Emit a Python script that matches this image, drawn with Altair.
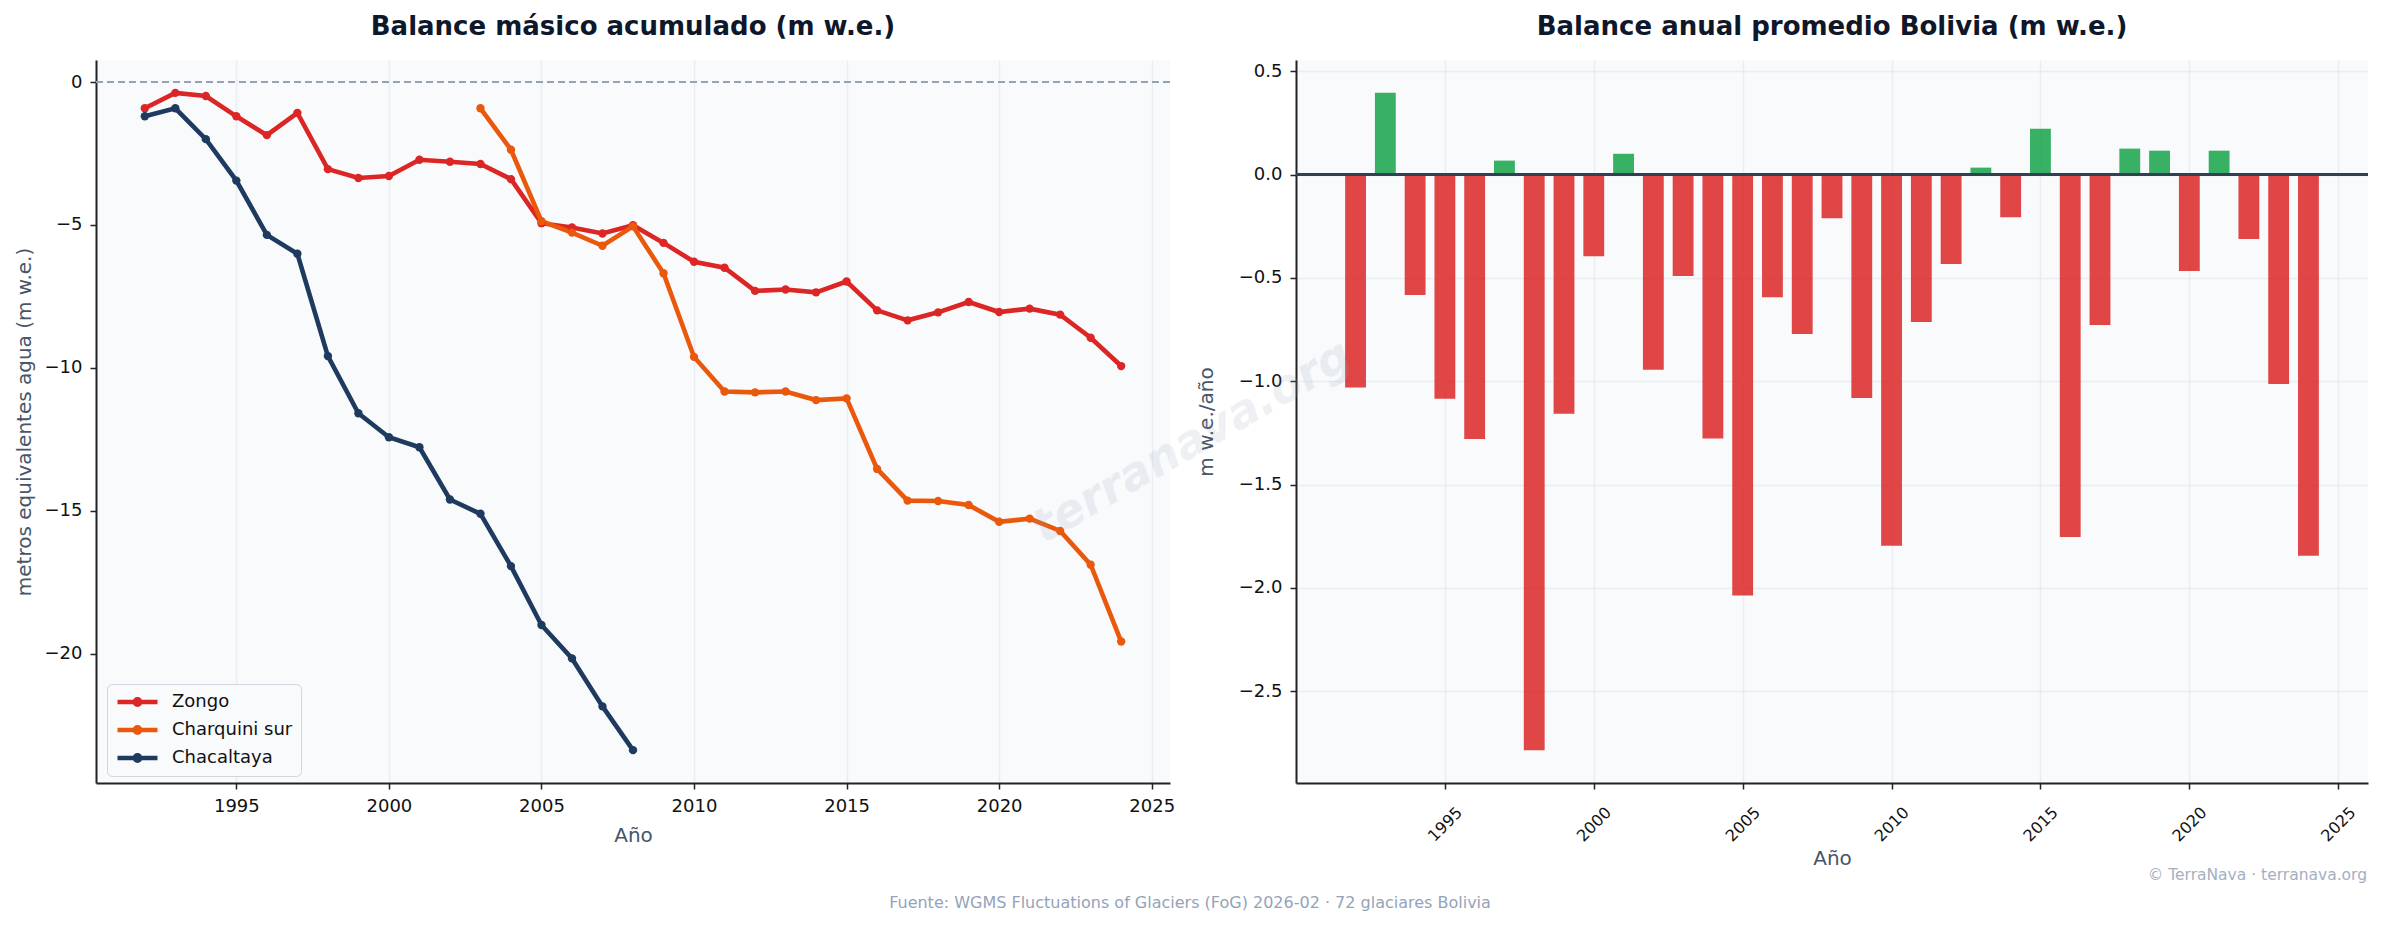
import altair as alt
import pandas as pd

# ---------------- data ----------------
series_names = ["Zongo", "Charquini sur", "Chacaltaya"]
series_colors = ["#dc2626", "#ea580c", "#1e3a5f"]

zongo_years = list(range(1992, 2025))
zongo_vals = [-0.92, -0.38, -0.49, -1.20, -1.86, -1.08, -3.05, -3.36, -3.29, -2.72,
              -2.79, -2.87, -3.40, -4.94, -5.09, -5.30, -5.01, -5.63, -6.29, -6.50,
              -7.31, -7.26, -7.36, -6.98, -7.99, -8.34, -8.06, -7.70, -8.05, -7.93,
              -8.14, -8.95, -9.94]

charq_years = list(range(2003, 2025))
charq_vals = [-0.92, -2.37, -4.87, -5.27, -5.73, -5.05, -6.69, -9.62, -10.83, -10.86,
              -10.83, -11.13, -11.07, -13.54, -14.65, -14.66, -14.80, -15.39, -15.28,
              -15.71, -16.89, -19.58]

chac_years = list(range(1992, 2009))
chac_vals = [-1.20, -0.92, -2.00, -3.45, -5.35, -6.01, -9.59, -11.59, -12.43, -12.78,
             -14.61, -15.11, -16.94, -19.00, -20.17, -21.85, -23.38]

bar_years = list(range(1992, 2025))
bar_vals = [-1.03, 0.396, -0.583, -1.085, -1.28, 0.068, -2.786, -1.158, -0.395, 0.101,
            -0.945, -0.491, -1.277, -2.037, -0.593, -0.771, -0.211, -1.081, -1.797,
            -0.713, -0.433, 0.034, -0.206, 0.222, -1.754, -0.728, 0.126, 0.116,
            -0.467, 0.116, -0.312, -1.013, -1.845]

left_xticks = [1995, 2000, 2005, 2010, 2015, 2020, 2025]
left_yticks = [-20, -15, -10, -5, 0]
right_yticks = [-2.5, -2.0, -1.5, -1.0, -0.5, 0.0, 0.5]

title_left = "Balance másico acumulado (m w.e.)"
title_right = "Balance anual promedio Bolivia (m w.e.)"
footer_text = "Fuente: WGMS Fluctuations of Glaciers (FoG) 2026-02 · 72 glaciares Bolivia"
credit_text = "© TerraNava · terranava.org"
watermark_text = "terranava.org"

# ---------------- tables ----------------
rows = []
for name, yrs, vals in [("Zongo", zongo_years, zongo_vals),
                        ("Charquini sur", charq_years, charq_vals),
                        ("Chacaltaya", chac_years, chac_vals)]:
    for yr, v in zip(yrs, vals):
        rows.append({"glacier": name, "year": yr, "value": v})
lines_df = pd.DataFrame(rows)
bars_df = pd.DataFrame({"year": bar_years, "value": bar_vals})

FONT = "DejaVu Sans"
LEG_PATH = "M-1,0H1M-0.13,0A0.13,0.13,0,1,0,0.13,0A0.13,0.13,0,1,0,-0.13,0"

# ---------------- left chart ----------------
x_left = alt.X("year:Q",
               scale=alt.Scale(domain=[1990.4, 2025.6], nice=False, zero=False),
               axis=alt.Axis(title="Año", values=left_xticks, format="d",
                             labelPadding=8, titlePadding=10))
y_left = alt.Y("value:Q",
               scale=alt.Scale(domain=[-24.53, 0.77], nice=False, zero=False),
               axis=alt.Axis(title="metros equivalentes agua (m w.e.)", values=left_yticks,
                             format="d", labelPadding=8, titlePadding=10))

zero_dash = alt.Chart(lines_df).mark_rule(
    strokeDash=[7, 4], color="#94a3b8", strokeWidth=1.5
).encode(y=alt.datum(0))

lines = alt.Chart(lines_df).mark_line(
    strokeWidth=4.6,
    point=alt.OverlayMarkDef(filled=True, size=70, opacity=1),
).encode(
    x=x_left,
    y=y_left,
    color=alt.Color("glacier:N",
                    scale=alt.Scale(domain=series_names, range=series_colors),
                    sort=series_names,
                    legend=alt.Legend(title=None, orient="none", legendX=11, legendY=624,
                                      fillColor="#f8fafc", strokeColor="#cfd6df",
                                      cornerRadius=5, padding=8, labelFontSize=18,
                                      labelColor="#111111", labelFont=FONT,
                                      symbolType=LEG_PATH, symbolSize=1600,
                                      symbolStrokeWidth=4.6, clipHeight=20,
                                      rowPadding=8, labelOffset=12)),
    order=alt.Order("year:Q"),
)

footer = alt.Chart(pd.DataFrame({"t": [footer_text]})).mark_text(
    fontSize=16, color="#94a3b8", align="center", baseline="middle", font=FONT
).encode(text="t:N", x=alt.value(1094), y=alt.value(843))

left = alt.layer(zero_dash, lines, footer).properties(
    width=1074, height=723, title=title_left
)

# ---------------- right chart ----------------
bars = alt.Chart(bars_df).transform_calculate(
    x0="datum.year - 0.35", x1="datum.year + 0.35"
).mark_rect(opacity=0.85).encode(
    x=alt.X("x0:Q",
            scale=alt.Scale(domain=[1990.0, 2026.0], nice=False, zero=False),
            axis=alt.Axis(title="Año", values=left_xticks, format="d",
                          labelAngle=315, labelAlign="center", labelBaseline="middle",
                          labelPadding=35, labelFontSize=16, titlePadding=4)),
    x2="x1:Q",
    y=alt.Y("value:Q",
            scale=alt.Scale(domain=[-2.945, 0.555], nice=False, zero=False),
            axis=alt.Axis(title="m w.e./año", values=right_yticks, format=".1f",
                          labelPadding=8, titlePadding=22)),
    y2=alt.datum(0),
    color=alt.condition("datum.value >= 0", alt.value("#16a34a"), alt.value("#dc2626")),
)

zero_solid = alt.Chart(bars_df).mark_rule(color="#334155", strokeWidth=2).encode(
    y=alt.datum(0)
)

watermark = alt.Chart(pd.DataFrame({"t": [watermark_text]})).mark_text(
    fontSize=46, fontWeight="bold", fontStyle="italic", color="#94a3b8", opacity=0.15,
    angle=330, align="center", baseline="middle", font=FONT
).encode(text="t:N", x=alt.value(-104), y=alt.value(382))

credit = alt.Chart(pd.DataFrame({"t": [credit_text]})).mark_text(
    fontSize=15.5, color="#a3b0c2", align="right", baseline="middle", font=FONT
).encode(text="t:N", x=alt.value(1071), y=alt.value(815))

right = alt.layer(bars, zero_solid, watermark, credit).properties(
    width=1072, height=723, title=title_right
)

chart = alt.hconcat(left, right, spacing=126, bounds="flush").properties(
    padding={"left": 14, "top": 14, "right": 0, "bottom": 0}
).configure(
    background="white", font=FONT
).configure_view(
    fill="#f8fafc", stroke=None
).configure_axis(
    domainColor="#222222", domainWidth=2, tickColor="#222222", tickWidth=1.5, tickSize=6,
    labelFontSize=18, labelColor="#111111", labelFont=FONT,
    titleFontSize=20, titleColor="#475569", titleFontWeight="normal", titleFont=FONT,
    gridColor="#e2e8f0", gridOpacity=0.7, gridWidth=1.5
).configure_title(
    fontSize=26, fontWeight="bold", color="#0f172a", offset=20, frame="group",
    anchor="middle", font=FONT
)

chart.save("out.html", embed_options={"renderer": "svg", "actions": False})
